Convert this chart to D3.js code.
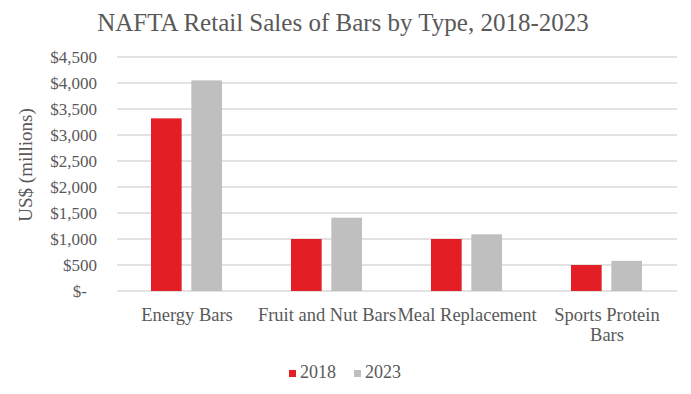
<!DOCTYPE html>
<html>
<head>
<meta charset="utf-8">
<script src="https://cdn.jsdelivr.net/npm/d3@7"></script>
<style>
  body { margin: 0; background: #fff; }
</style>
</head>
<body>
<div id="chart"></div>
<script>
// data
var categories = ["Energy Bars", "Fruit and Nut Bars", "Meal Replacement", "Sports Protein Bars"];
var years = ["2018", "2023"];
var sales2018 = [3320, 1000, 1000, 500];
var sales2023 = [4050, 1410, 1090, 580];
var yTicks = [0, 500, 1000, 1500, 2000, 2500, 3000, 3500, 4000, 4500];

var colors = { "2018": "#E31E24", "2023": "#BFBFBF" };
var FONT = "'Liberation Serif', 'Times New Roman', serif";

var svgWidth = 691;
var svgHeight = 394;
var margin = { top: 57, right: 14, bottom: 103, left: 117 };
var chart_width = svgWidth - margin.left - margin.right;
var chart_height = svgHeight - margin.top - margin.bottom;

var svg = d3.select("#chart")
    .append("svg")
    .attr("width", svgWidth)
    .attr("height", svgHeight);

// title
svg.append("text")
    .attr("x", 343)
    .attr("y", 31)
    .attr("text-anchor", "middle")
    .attr("font-size", 25)
    .text("NAFTA Retail Sales of Bars by Type, 2018-2023");

var chartGroup = svg.append("g")
    .attr("transform", `translate(${margin.left}, ${margin.top})`);

var rows = categories.map(function(c, i) {
    return { cat: c, "2018": sales2018[i], "2023": sales2023[i] };
});

var xScale = d3.scaleBand()
    .domain(categories)
    .range([0, chart_width]);

var xInner = d3.scaleBand()
    .domain(years)
    .range([34, xScale.bandwidth() - 35])
    .paddingInner(0.24);

var yScale = d3.scaleLinear()
    .domain([0, 4500])
    .range([chart_height, 0]);

// gridlines
chartGroup.append("g")
    .selectAll("line")
    .data(yTicks)
    .enter()
    .append("line")
    .attr("x1", 0)
    .attr("x2", chart_width)
    .attr("y1", d => yScale(d))
    .attr("y2", d => yScale(d))
    .attr("stroke", "#D9D9D9")
    .attr("stroke-width", 1.3);

// y axis labels
var leftAxis = d3.axisLeft(yScale)
    .tickValues(yTicks)
    .tickSize(0)
    .tickPadding(20)
    .tickFormat(d => d === 0 ? "$-" : "$" + d3.format(",")(d));

var yAxis = chartGroup.append("g").call(leftAxis);
yAxis.select(".domain").remove();
yAxis.selectAll("text")
    .attr("font-size", 17)
    .attr("dx", d => d === 0 ? -10 : 0);

// bars
var groups = chartGroup.append("g")
    .selectAll("g")
    .data(rows)
    .enter()
    .append("g")
    .attr("transform", d => `translate(${xScale(d.cat)}, 0)`);

groups.selectAll("rect")
    .data(d => years.map(y => ({ year: y, value: d[y] })))
    .enter()
    .append("rect")
    .attr("x", d => xInner(d.year))
    .attr("width", xInner.bandwidth())
    .attr("y", d => yScale(d.value))
    .attr("height", d => chart_height - yScale(d.value))
    .attr("fill", d => colors[d.year]);

// x axis labels
var bottomAxis = d3.axisBottom(xScale).tickSize(0).tickPadding(17);
var xAxis = chartGroup.append("g")
    .attr("transform", `translate(0, ${chart_height})`)
    .call(bottomAxis);
xAxis.select(".domain").remove();
xAxis.selectAll("text")
    .attr("font-size", 18.5)
    .each(function(d) {
        if (d === "Sports Protein Bars") {
            var t = d3.select(this).text(null);
            t.append("tspan").attr("x", 0).text("Sports Protein");
            t.append("tspan").attr("x", 0).attr("dy", "1.1em").text("Bars");
        }
    });

// y axis title
svg.append("text")
    .attr("transform", "rotate(-90)")
    .attr("x", -165)
    .attr("y", 32)
    .attr("text-anchor", "middle")
    .attr("font-size", 19)
    .text("US$ (millions)");

// legend
var legend = svg.append("g")
    .selectAll("g")
    .data(years)
    .enter()
    .append("g")
    .attr("transform", (d, i) => `translate(${289 + i * 65}, 370)`);

legend.append("rect")
    .attr("width", 7)
    .attr("height", 7)
    .attr("fill", d => colors[d]);

legend.append("text")
    .attr("x", 11)
    .attr("y", 8)
    .attr("font-size", 18)
    .text(d => d);

// every label in serif grey
svg.selectAll("text")
    .style("font-family", FONT)
    .style("fill", "#595959");
svg.selectAll("g").attr("font-family", null);
</script>
</body>
</html>
